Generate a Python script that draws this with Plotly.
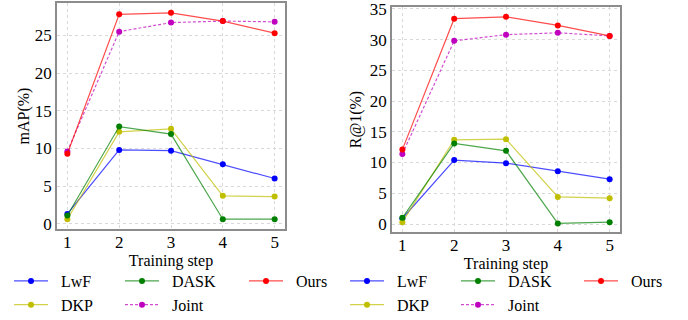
import plotly.graph_objects as go

steps = [1, 2, 3, 4, 5]
methods = ["LwF", "DASK", "Ours", "DKP", "Joint"]
colors = {"LwF": "#0000ff", "DASK": "#008000", "Ours": "#ff0000", "DKP": "#bfbf00", "Joint": "#bf00bf"}
line_colors = {"LwF": "rgba(0,0,255,0.7)", "DASK": "rgba(0,128,0,0.7)", "Ours": "rgba(255,0,0,0.7)",
               "DKP": "rgba(191,191,0,0.7)", "Joint": "rgba(191,0,191,0.7)"}

map_vals = {
    "LwF": [1.3, 9.8, 9.7, 7.9, 6.0],
    "DASK": [1.1, 12.9, 11.9, 0.6, 0.6],
    "DKP": [0.6, 12.2, 12.6, 3.7, 3.6],
    "Ours": [9.3, 27.8, 28.0, 26.9, 25.3],
    "Joint": [9.6, 25.5, 26.7, 26.9, 26.8],
}
r1_vals = {
    "LwF": [0.9, 10.4, 9.9, 8.6, 7.3],
    "DASK": [1.0, 13.1, 11.9, 0.1, 0.3],
    "DKP": [0.3, 13.7, 13.8, 4.4, 4.2],
    "Ours": [12.1, 33.4, 33.7, 32.3, 30.6],
    "Joint": [11.4, 29.8, 30.8, 31.1, 30.6],
}

W, H = 688, 320
FONT = "Liberation Serif"

fig = go.Figure()

col_of = {"LwF": 0, "DKP": 0, "DASK": 1, "Joint": 1, "Ours": 2}
order = ["LwF", "DKP", "DASK", "Joint", "Ours"]

for panel, (vals, xa, ya) in enumerate([(map_vals, "x", "y"), (r1_vals, "x2", "y2")]):
    for m in order:
        leg_idx = panel * 3 + col_of[m] + 1
        leg = "legend" if leg_idx == 1 else f"legend{leg_idx}"
        fig.add_trace(go.Scatter(
            x=steps, y=vals[m], name="\u00a0\u00a0" + m, mode="lines+markers",
            xaxis=xa, yaxis=ya, legend=leg,
            line=dict(color=line_colors[m], width=1.2, dash="3px,2px" if m == "Joint" else "solid"),
            marker=dict(color=colors[m], size=6),
        ))

axis_common = dict(
    showline=True, mirror=True, linecolor="#8c8c8c", linewidth=1.5,
    showgrid=True, gridcolor="#d9d9d9", griddash="dot", gridwidth=1,
    zeroline=False, ticks="", tickfont=dict(family=FONT, size=17, color="black"),
    automargin=True, ticklabeloverflow="allow",
)

def px(v):
    return v / W

def py(v):
    return 1 - v / H

fig.update_layout(
    width=W, height=H, margin=dict(l=0, r=0, t=0, b=0, autoexpand=False),
    paper_bgcolor="white", plot_bgcolor="white",
    font=dict(family=FONT, size=16, color="black"),
    xaxis=dict(domain=[px(57), px(285)], range=[0.8, 5.2], tickvals=steps, anchor="y", ticklabelstandoff=-3,
               title=dict(text="Training step", font=dict(family=FONT, size=16), standoff=0), **axis_common),
    yaxis=dict(domain=[py(229), py(3)], range=[-0.7, 29.3], tickvals=[0, 5, 10, 15, 20, 25], anchor="x",
               title=dict(text="mAP(%)", font=dict(family=FONT, size=16), standoff=1), **axis_common),
    xaxis2=dict(domain=[px(392), px(620)], range=[0.8, 5.2], tickvals=steps, anchor="y2", ticklabelstandoff=-3,
                title=dict(text="Training step", font=dict(family=FONT, size=16), standoff=0), **axis_common),
    yaxis2=dict(domain=[py(232), py(7)], range=[-1.3, 35.3], tickvals=[0, 5, 10, 15, 20, 25, 30, 35], anchor="x2",
                title=dict(text="R@1(%)", font=dict(family=FONT, size=16), standoff=4), **axis_common),
    showlegend=True,
)

leg_x = [14, 125, 249, 350, 461, 584]
for i, lx in enumerate(leg_x):
    key = "legend" if i == 0 else f"legend{i + 1}"
    fig.update_layout({key: dict(
        x=px(lx - 5), y=py(264), xanchor="left", yanchor="top",
        orientation="v", bgcolor="rgba(0,0,0,0)", borderwidth=0,
        font=dict(family=FONT, size=16, color="black"),
        itemwidth=34, tracegroupgap=0,
    )})

fig.write_html("out.html", post_script="document.body.style.margin='0';",
               config={"displayModeBar": False})
